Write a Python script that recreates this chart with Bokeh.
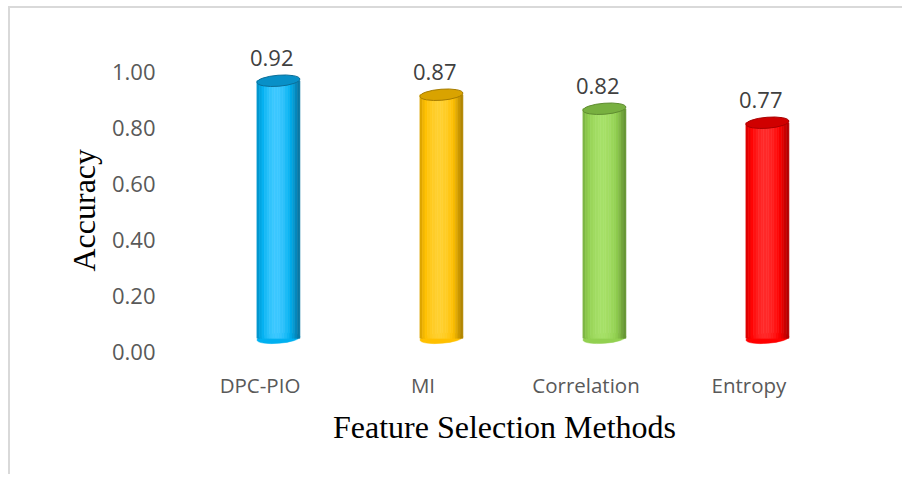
import numpy as np
from bokeh.plotting import figure
from bokeh.models import ColumnDataSource, FixedTicker, LabelSet, Range1d, Title, NumeralTickFormatter
from bokeh.core.properties import value
from bokeh.transform import dodge
from bokeh.embed import file_html
from bokeh.resources import INLINE

# ---- data ----
methods = ["DPC-PIO", "MI", "Correlation", "Entropy"]
accuracy = [0.92, 0.87, 0.82, 0.77]
value_labels = ["0.92", "0.87", "0.82", "0.77"]
y_ticks = [0.0, 0.2, 0.4, 0.6, 0.8, 1.0]

# ---- style ----
base_cols = ["#00B0F0", "#FFC000", "#92D050", "#FF0000"]
light_cols = ["#3CC8FF", "#FFD030", "#A6E068", "#FF2A2A"]
dark_cols = ["#0A6E98", "#A67C00", "#5F8C30", "#A80000"]
cap_cols = ["#0890C8", "#D9A300", "#78B040", "#D00000"]
DEPTH_Y = 0.047     # 3D perspective shift (data units)
SHIFT_X = 0.113     # 3D perspective shift (factor units)
BAR_W = 0.264
N_STRIPS = 17
LABEL_FONT = "Open Sans"
GRAY = "#595959"


def hex2rgb(h):
    h = h.lstrip("#")
    return np.array([int(h[i:i + 2], 16) for i in (0, 2, 4)], dtype=float)


def rgb2hex(c):
    c = np.clip(np.round(c), 0, 255).astype(int)
    return "#%02x%02x%02x" % tuple(c)


def shade(t, dark, base, light):
    d, b, l = hex2rgb(dark), hex2rgb(base), hex2rgb(light)
    peak = 0.45
    if t <= peak:
        s = (t / peak)
        s = 0.3 + 0.7 * np.sin(s * np.pi / 2)
    else:
        s = 1 - (t - peak) / (1 - peak)
        s = np.sin(s * np.pi / 2)
    if s < 0.6:
        return rgb2hex(d + (b - d) * (s / 0.6))
    return rgb2hex(b + (l - b) * ((s - 0.6) / 0.4))


p = figure(x_range=methods, y_range=Range1d(0, 1.15),
           width=902, height=466,
           frame_width=652, frame_height=322,
           min_border_left=168, min_border_right=72,
           min_border_top=21, min_border_bottom=123,
           output_backend="svg", toolbar_location=None,
           background_fill_color="white", border_fill_color="white")
p.outline_line_color = None
p.grid.visible = False
p.styles = {"border-top": "2px solid #d9d9d9", "border-left": "2px solid #d9d9d9",
            "margin-top": "6px", "margin-left": "8px"}

tops = [a + DEPTH_Y for a in accuracy]
bottoms = [DEPTH_Y] * len(accuracy)

# bottom caps
src_b = ColumnDataSource(dict(x=methods, y=bottoms, c=base_cols, lc=dark_cols))
p.ellipse(x=dodge("x", SHIFT_X, range=p.x_range), y="y", width=43, height=10,
          width_units="screen", height_units="screen", angle=0.08,
          fill_color="c", line_color="c", line_width=0.5, source=src_b)

# cylinder bodies as shaded strips
sw = BAR_W / N_STRIPS
for i in range(N_STRIPS):
    t = (i + 0.5) / N_STRIPS
    cols = [shade(t, dark_cols[k], base_cols[k], light_cols[k]) for k in range(len(methods))]
    off = SHIFT_X - BAR_W / 2 + (i + 0.5) * sw
    src = ColumnDataSource(dict(x=methods, top=tops, bottom=bottoms, c=cols))
    p.vbar(x=dodge("x", off, range=p.x_range), top="top", bottom="bottom",
           width=sw, fill_color="c", line_color="c", line_width=0.6, source=src)

# top caps
src_t = ColumnDataSource(dict(x=methods, y=tops, c=cap_cols, lc=dark_cols))
p.ellipse(x=dodge("x", SHIFT_X, range=p.x_range), y="y", width=43, height=11,
          width_units="screen", height_units="screen", angle=0.08,
          fill_color="c", line_color="lc", line_width=1, source=src_t)

# value labels
src_l = ColumnDataSource(dict(x=methods, y=accuracy, t=value_labels))
labels = LabelSet(x=dodge("x", 0.072, range=p.x_range), y="y", text="t", source=src_l,
                  y_offset=36, text_align="center", text_baseline="middle",
                  text_font=value(LABEL_FONT), text_font_size=value("22px"),
                  text_color=value("#404040"))
p.add_layout(labels)

# axes
p.yaxis.ticker = FixedTicker(ticks=y_ticks)
p.yaxis.formatter = NumeralTickFormatter(format="0.00")
for ax in (p.xaxis[0], p.yaxis[0]):
    ax.axis_line_color = None
    ax.major_tick_line_color = None
    ax.minor_tick_line_color = None
    ax.major_tick_out = 0
    ax.major_tick_in = 0
    ax.minor_tick_out = 0
    ax.major_label_text_font = LABEL_FONT
    ax.major_label_text_color = GRAY
    ax.axis_label_text_font = "Liberation Serif"
    ax.axis_label_text_font_size = "32px"
    ax.axis_label_text_font_style = "normal"
    ax.axis_label_text_color = "black"

p.yaxis.major_label_text_font_size = "22px"
p.xaxis.major_label_text_font_size = "20.5px"
p.yaxis.major_label_standoff = 23
p.xaxis.major_label_standoff = 19
p.xaxis.axis_label = "Feature Selection Methods"
p.xaxis.axis_label_standoff = 7

# y title, centred on the 0..1 span (Excel plot area)
ytitle = Title(text="Accuracy", align="left", offset=80, standoff=14,
               text_font="Liberation Serif", text_font_size="32px",
               text_font_style="normal", text_color="black")
p.add_layout(ytitle, "left")

open("out.html", "w").write(file_html(p, INLINE))
